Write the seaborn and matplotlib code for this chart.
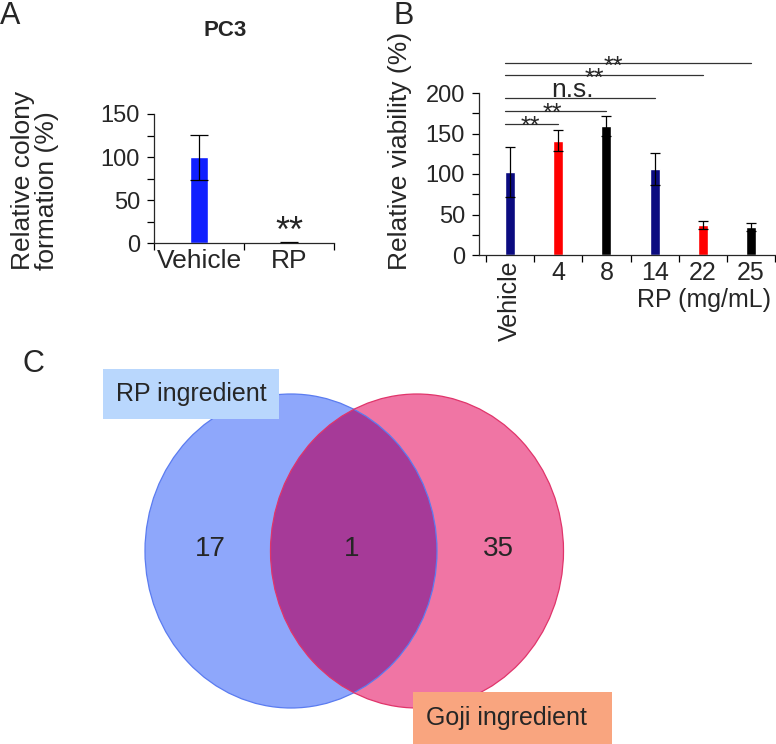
import matplotlib
matplotlib.use('Agg')
import matplotlib.pyplot as plt
from matplotlib.patches import Ellipse, Rectangle
import seaborn as sns

# Panel A: colony formation in PC3
colony_groups = ['Vehicle', 'RP']
colony_mean = [100, 1]
colony_err = [26, 1]
colony_colors = ['#1020ff', '#1020ff']

# Panel B: viability by RP dose
dose_labels = ['Vehicle', '4', '8', '14', '22', '25']
viability_mean = [102, 141, 159, 106, 37, 35]
viability_err = [31, 13, 12, 20, 5, 5]
dose_colors = ['#0b0b80', '#ff0000', '#000000', '#0b0b80', '#ff0000', '#000000']

# comparisons against Vehicle
comp_labels = ['**', '**', 'n.s.', '**', '**']
comp_targets = [1, 2, 3, 4, 5]
comp_heights = [162, 178, 194, 222, 237]
comp_text_x = [0.42, 0.875, 1.29, 1.75, 2.15]

# Panel C: Venn of ingredients
venn_counts = [17, 1, 35]
set_names = ['RP ingredient', 'Goji ingredient']

W, H = 776, 744
sns.set_style('ticks')
plt.rcParams['font.family'] = ['Liberation Sans', 'DejaVu Sans']
plt.rcParams['axes.linewidth'] = 0.9


def fig_rect(x0, y_top, w, h):
    # pixel box (from top-left) -> figure fraction
    return [x0 / W, 1 - (y_top + h) / H, w / W, h / H]


fig = plt.figure(figsize=(W / 100, H / 100), dpi=100)

# ---------- A ----------
ax_a = fig.add_axes(fig_rect(154, 114, 180, 129.3))
sns.barplot(x=colony_groups, y=colony_mean, hue=colony_groups, palette=colony_colors,
            legend=False, width=0.19, saturation=1, ax=ax_a)
ax_a.errorbar(range(len(colony_mean)), colony_mean, yerr=colony_err, fmt='none',
              ecolor='black', elinewidth=0.9, capsize=6.8, capthick=0.9)
ax_a.set_xlim(-0.5, 1.5)
ax_a.set_ylim(0, 150)
ax_a.set_xticks([0, 1], colony_groups)
ax_a.set_xticks([-0.5, 0.5, 1.5], minor=True)
ax_a.set_yticks([0, 50, 100, 150])
ax_a.set_yticks([25, 75, 125], minor=True)
ax_a.tick_params(axis='x', which='major', length=0, pad=4, labelsize=19)
ax_a.tick_params(axis='x', which='minor', length=5, width=0.9, color='black')
ax_a.tick_params(axis='y', which='both', length=5, width=0.9, pad=5, labelsize=17, color='black')
ax_a.set_ylabel('Relative colony\nformation (%)', fontsize=19, multialignment='left',
                linespacing=1.0)
ax_a.yaxis.set_label_coords(-0.53, 0.49)
ax_a.set_xlabel('')
ax_a.text(1, 1, '**', ha='center', va='baseline', fontsize=26)
sns.despine(ax=ax_a)
fig.text(225 / W, 1 - 31 / H, 'PC3', ha='center', va='center', fontsize=16, fontweight='bold')

# ---------- B ----------
ax_b = fig.add_axes(fig_rect(479, 93, 296, 162))
sns.barplot(x=dose_labels, y=viability_mean, hue=dose_labels, palette=dose_colors,
            legend=False, width=0.21, saturation=1, ax=ax_b)
ax_b.errorbar(range(len(viability_mean)), viability_mean, yerr=viability_err, fmt='none',
              ecolor='black', elinewidth=0.9, capsize=3.6, capthick=0.9)
ax_b.set_xlim(-0.646, 5.5)
ax_b.set_ylim(0, 200)
ax_b.set_xticks(range(len(dose_labels)), dose_labels)
ax_b.set_xticks([i - 0.5 for i in range(len(dose_labels) + 1)], minor=True)
ax_b.set_yticks([0, 50, 100, 150, 200])
ax_b.set_yticks([25, 75, 125, 175], minor=True)
ax_b.tick_params(axis='x', which='major', length=0, pad=4, labelsize=18)
ax_b.tick_params(axis='x', which='minor', length=5, width=0.9, color='black')
ax_b.tick_params(axis='y', which='both', length=5, width=0.9, pad=5, labelsize=17, color='black')
ax_b.get_xticklabels()[0].set_rotation(90)
ax_b.set_xlabel('')
ax_b.set_ylabel('Relative viability (%)', fontsize=19)
ax_b.yaxis.set_label_coords(-0.226, 0.642)
ax_b.text(0.985, -0.28, 'RP (mg/mL)', transform=ax_b.transAxes, ha='right', va='center',
          fontsize=18)
for lab, tgt, h, tx in zip(comp_labels, comp_targets, comp_heights, comp_text_x):
    ax_b.plot([-0.1, tgt], [h, h], color='#333333', lw=0.9, clip_on=False)
    if lab == '**':
        ax_b.text(tx, h - 13, lab, ha='center', va='baseline', fontsize=18, clip_on=False)
    else:
        ax_b.text(tx, h + 0.5, lab, ha='center', va='baseline', fontsize=19, clip_on=False)
sns.despine(ax=ax_b)

# ---------- C ----------
ax_c = fig.add_axes(fig_rect(0, 330, W, H - 330))
ax_c.set_xlim(0, W)
ax_c.set_ylim(H, 330)
ax_c.axis('off')

left_c, right_c = (291, 551), (417, 551)
left = Ellipse(left_c, 292, 314, fc='#8ea7fb', ec='none')
right = Ellipse(right_c, 293, 314, fc='#f075a4', ec='none')
ax_c.add_patch(left)
ax_c.add_patch(right)
both = Ellipse(left_c, 292, 314, fc='#a63a98', ec='none')
ax_c.add_patch(both)
both.set_clip_path(right)
ax_c.add_patch(Ellipse(left_c, 292, 314, fill=False, ec='#5b7cf0', lw=0.9))
ax_c.add_patch(Ellipse(right_c, 293, 314, fill=False, ec='#e0356b', lw=0.9))

ax_c.add_patch(Rectangle((103, 369), 176, 50, fc='#b9d7fd', ec='none'))
ax_c.add_patch(Rectangle((413, 692), 199, 60, fc='#f9a57f', ec='none'))
ax_c.text(191, 394, set_names[0], ha='center', va='center', fontsize=18)
ax_c.text(506, 718, set_names[1], ha='center', va='center', fontsize=18)

for cx, n in zip([210, 352, 498], venn_counts):
    ax_c.text(cx, 549, str(n), ha='center', va='center', fontsize=20)

# panel letters
fig.text(0 / W, 1 - 1 / H, 'A', ha='left', va='top', fontsize=22)
fig.text(394 / W, 1 - 1 / H, 'B', ha='left', va='top', fontsize=22)
fig.text(22 / W, 1 - 349 / H, 'C', ha='left', va='top', fontsize=22)

fig.savefig('out.png', dpi=100)
